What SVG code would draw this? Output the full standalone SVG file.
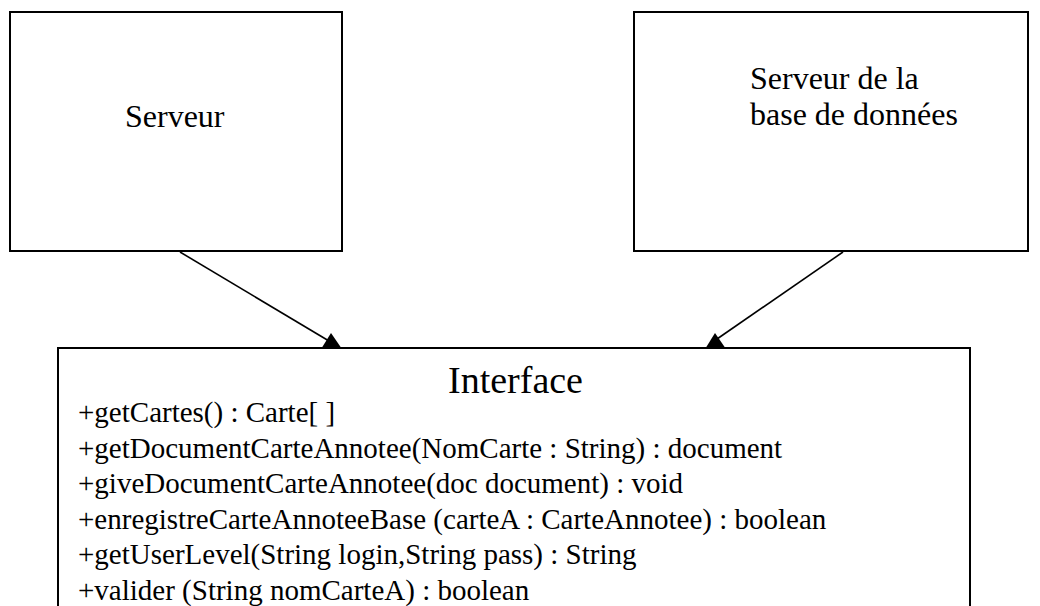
<svg xmlns="http://www.w3.org/2000/svg" width="1040" height="606" viewBox="0 0 1040 606">
  <style>
    .box { fill: #ffffff; stroke: #000000; stroke-width: 2; }
    .edge { stroke: #000000; stroke-width: 1.6; fill: none; }
    .head { fill: #000000; stroke: none; }
    text { fill: #000000; }
  </style>
  <rect width="1040" height="606" fill="#ffffff"/>

  <g id="serveur">
    <rect class="box" x="10" y="12" width="332" height="239"/>
    <text font-family="Liberation Serif, Times New Roman, DejaVu Serif, serif" font-size="32" x="125" y="127">Serveur</text>
  </g>

  <g id="serveur-bd">
    <rect class="box" x="634" y="12" width="394" height="239"/>
    <text font-family="Liberation Serif, Times New Roman, DejaVu Serif, serif" font-size="32" x="750" y="89">Serveur de la</text>
    <text font-family="Liberation Serif, Times New Roman, DejaVu Serif, serif" font-size="32" x="750" y="125">base de données</text>
  </g>

  <g id="connectors">
    <line class="edge" x1="180" y1="252" x2="329" y2="341"/>
    <polygon class="head" points="322,347.5 331,333 341,347.5"/>
    <line class="edge" x1="843" y1="252" x2="717" y2="339"/>
    <polygon class="head" points="706,347.5 715,333 725,347.5"/>
  </g>

  <!-- class box, open at the bottom edge of the page -->
  <g id="interface" font-family="Liberation Serif, Times New Roman, DejaVu Serif, serif" font-size="29">
    <rect class="box" x="58" y="348" width="912" height="280"/>
    <text font-size="38" x="448" y="393">Interface</text>
    <text x="78" y="422">+getCartes() : Carte[ ]</text>
    <text x="78" y="457.5">+getDocumentCarteAnnotee(NomCarte : String) : document</text>
    <text x="78" y="493">+giveDocumentCarteAnnotee(doc document) : void</text>
    <text x="78" y="528.5">+enregistreCarteAnnoteeBase (carteA : CarteAnnotee) : boolean</text>
    <text x="78" y="564">+getUserLevel(String login,String pass) : String</text>
    <text x="78" y="599.5">+valider (String nomCarteA) : boolean</text>
  </g>
</svg>
